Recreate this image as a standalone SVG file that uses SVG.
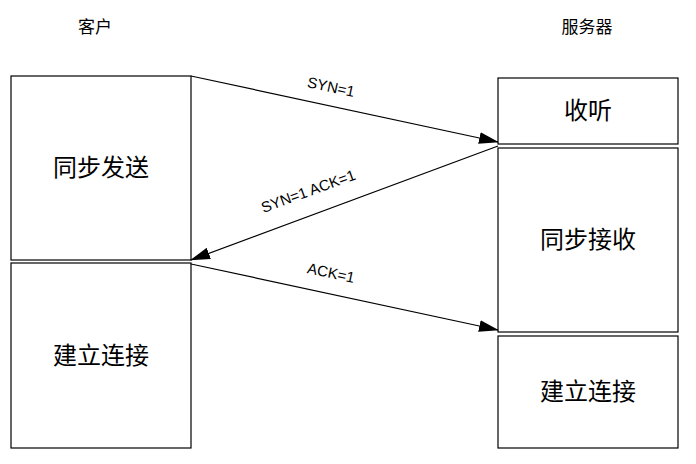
<svg xmlns="http://www.w3.org/2000/svg" width="696" height="464" viewBox="0 0 696 464">
<style>
.b{fill:#fff;stroke:#000;stroke-width:1.2}
.t{font-family:"Noto Sans CJK SC",sans-serif;font-size:24px;text-anchor:middle;fill:#000}
.h{font-family:"Noto Sans CJK SC",sans-serif;font-size:17px;text-anchor:middle;fill:#000}
.l{font-family:"Liberation Sans",sans-serif;font-size:15px;text-anchor:middle;fill:#000}
.c{stroke:#000;stroke-width:1.2;fill:none;marker-end:url(#a)}
</style>
<defs><marker id="a" markerWidth="20" markerHeight="12" refX="19" refY="6" orient="auto" markerUnits="userSpaceOnUse"><path d="M0,0 L20,6 L0,12 Z" fill="#000"/></marker></defs>
<rect width="696" height="464" fill="#fff"/>
<text class="h" x="95" y="33">客户</text>
<text class="h" x="587" y="33">服务器</text>
<g id="c1"><rect class="b" x="11" y="76" width="180" height="184"/><text class="t" x="101" y="176">同步发送</text></g>
<g id="c2"><rect class="b" x="11" y="263" width="180" height="185"/><text class="t" x="101" y="364">建立连接</text></g>
<g id="s1"><rect class="b" x="498" y="78" width="180" height="66"/><text class="t" x="588" y="119">收听</text></g>
<g id="s2"><rect class="b" x="498" y="148" width="180" height="184"/><text class="t" x="588" y="248">同步接收</text></g>
<g id="s3"><rect class="b" x="498" y="336" width="180" height="112"/><text class="t" x="588" y="400">建立连接</text></g>
<g id="connectors">
<line class="c" x1="191" y1="76" x2="498" y2="142"/>
<line class="c" x1="498" y1="146" x2="191" y2="260"/>
<line class="c" x1="191" y1="264" x2="498" y2="330"/>
<text class="l" transform="translate(330,92) rotate(12)">SYN=1</text>
<text class="l" transform="translate(310,196) rotate(-20)">SYN=1 ACK=1</text>
<text class="l" transform="translate(330,278) rotate(12)">ACK=1</text>
</g>
</svg>
